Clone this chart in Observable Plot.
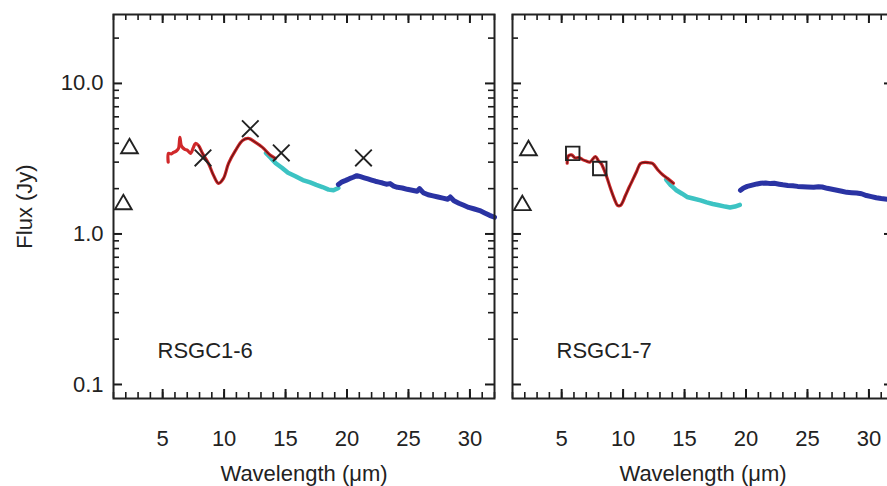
<!DOCTYPE html>
<html><head><meta charset="utf-8">
<script src="https://cdn.jsdelivr.net/npm/d3@7"></script>
<script src="https://cdn.jsdelivr.net/npm/@observablehq/plot@0.6"></script>
<style>
body{margin:0;background:#fff;}
#wrap{position:relative;width:887px;height:486px;overflow:hidden;background:#fff;}
#wrap > svg{position:absolute;top:0;}
</style></head><body><div id="wrap"></div>
<script>
// ---- axes ----
const xDomain = [1, 32];
const yDomain = [0.0807, 28.7];
const xMajor = [5, 10, 15, 20, 25, 30];
const xMinor = d3.range(1, 33);
const yMajor = [0.1, 1, 10];
const yTickLabels = ["0.1", "1.0", "10.0"];
const yMinor = [0.2,0.3,0.4,0.5,0.6,0.7,0.8,0.9,2,3,4,5,6,7,8,9,20];
const xLabel = "Wavelength (\u03bcm)";
const yLabel = "Flux (Jy)";
const panelNames = ["RSGC1-6", "RSGC1-7"];

// ---- RSGC1-6 ----
const tri6 = [[2.3, 3.70], [1.8, 1.57]];
const msx6 = [[8.28, 3.2], [12.13, 5.0], [14.65, 3.45], [21.34, 3.2]];
const red6 = [[5.45,3.00],[5.48,3.43],[5.7,3.40],[5.88,3.48],[6.1,3.55],[6.29,3.70],[6.4,4.38],[6.5,3.9],[6.61,3.76],[6.8,3.65],[7.02,3.59],[7.27,3.43],[7.5,3.75],[7.67,3.99],[7.92,3.87],[8.24,3.43],[8.73,2.94],[9.14,2.45],[9.54,2.17],[9.95,2.34],[10.36,2.94],[10.93,3.59],[11.5,4.18],[11.98,4.31],[12.55,4.06],[13.12,3.76],[13.77,3.33],[14.18,3.18]];
const cyan6 = [[13.4,3.45],[13.8,3.2],[14.2,2.95],[14.7,2.75],[15.2,2.55],[15.8,2.42],[16.4,2.28],[17.0,2.20],[17.5,2.12],[18.0,2.05],[18.5,1.97],[18.9,1.95],[19.3,2.02]];
const blue6 = [[19.3,2.13],[19.6,2.22],[19.9,2.27],[20.2,2.33],[20.5,2.38],[20.8,2.44],[21.1,2.40],[21.4,2.36],[21.7,2.32],[22.0,2.28],[22.3,2.24],[22.6,2.21],[22.9,2.18],[23.2,2.14],[23.5,2.16],[23.8,2.08],[24.1,2.04],[24.5,2.02],[24.9,1.98],[25.3,1.95],[25.7,1.92],[25.9,2.00],[26.2,1.88],[26.6,1.82],[27.0,1.79],[27.4,1.76],[27.8,1.73],[28.2,1.70],[28.4,1.76],[28.7,1.66],[29.1,1.60],[29.5,1.55],[29.9,1.50],[30.3,1.47],[30.8,1.43],[31.2,1.38],[31.6,1.33],[32.0,1.29]];

// ---- RSGC1-7 ----
const tri7 = [[2.3, 3.59], [1.8, 1.55]];
const glimpse7 = [[5.9, 3.43], [8.1, 2.72]];
const red7 = [[5.45,2.95],[5.55,3.30],[5.8,3.35],[6.1,3.20],[6.4,3.22],[6.7,3.12],[7.0,3.05],[7.3,3.00],[7.75,3.27],[8.0,3.05],[8.2,2.95],[8.57,2.52],[8.97,2.01],[9.3,1.70],[9.54,1.55],[9.79,1.55],[10.19,1.80],[10.5,2.05],[10.76,2.27],[11.1,2.6],[11.41,2.94],[11.82,2.99],[12.1,2.97],[12.39,2.94],[12.87,2.64],[13.2,2.48],[13.61,2.34],[14.10,2.17]];
const cyan7 = [[13.5,2.30],[13.9,2.10],[14.3,1.96],[14.8,1.85],[15.2,1.76],[15.7,1.72],[16.3,1.67],[16.8,1.62],[17.3,1.58],[17.8,1.55],[18.3,1.52],[18.7,1.50],[19.1,1.52],[19.5,1.56]];
const blue7 = [[19.55,1.95],[19.8,2.02],[20.1,2.07],[20.5,2.11],[20.9,2.15],[21.2,2.17],[21.6,2.18],[22.0,2.16],[22.3,2.17],[22.7,2.14],[23.0,2.12],[23.4,2.10],[23.8,2.09],[24.2,2.07],[24.6,2.06],[25.0,2.05],[25.5,2.04],[25.9,2.06],[26.2,2.05],[26.6,2.01],[27.0,1.98],[27.4,1.95],[27.8,1.92],[28.2,1.89],[28.6,1.88],[29.0,1.87],[29.4,1.85],[29.8,1.80],[30.2,1.77],[30.6,1.74],[31.0,1.72],[31.5,1.70],[32.0,1.68]];

const RED = "#d0282a", CYAN = "#3cc3c3", BLUE = "#2a33a3", INK = "#222";
const TICK = "#1a1a1a";
const FONT = "'Liberation Sans', Arial, Helvetica, sans-serif";
const FW = 381, FH = 384; // frame size in px

function panel({name, tri, pts, symbol, r, red, cyan, blue, coreFrom, yLabels, marginLeft, marginRight}) {
  const X = d => d[0], Y = d => d[1];
  const id = d => d;
  const marks = [
    Plot.line(cyan, {x: X, y: Y, stroke: CYAN, strokeWidth: 4.5, strokeLinejoin: "round"}),
    Plot.line(blue, {x: X, y: Y, stroke: BLUE, strokeWidth: 5, strokeLinejoin: "round"}),
    Plot.line(red, {x: X, y: Y, stroke: RED, strokeWidth: 3.2, strokeLinejoin: "round", curve: "catmull-rom"}),
    Plot.line(red.filter(d => d[0] >= coreFrom), {x: X, y: Y, stroke: "#3a0e0e", strokeWidth: 1.1, strokeOpacity: 0.75, curve: "catmull-rom"}),
    Plot.dot(tri, {x: X, y: Y, symbol: "triangle", r: 6.2, fill: "none", stroke: INK, strokeWidth: 1.9}),
    Plot.dot(pts, {x: X, y: Y, symbol, r, fill: "none", stroke: INK, strokeWidth: 1.9}),
    // inward tick marks on all four sides
    Plot.tickX(xMinor, {x: id, insetTop: FH - 6, stroke: TICK, strokeWidth: 1.6}),
    Plot.tickX(xMajor, {x: id, insetTop: FH - 9, stroke: TICK, strokeWidth: 2}),
    Plot.tickX(xMinor, {x: id, insetBottom: FH - 6, stroke: TICK, strokeWidth: 1.6}),
    Plot.tickX(xMajor, {x: id, insetBottom: FH - 9, stroke: TICK, strokeWidth: 2}),
    Plot.tickY(yMinor, {y: id, insetRight: FW - 6, stroke: TICK, strokeWidth: 1.6}),
    Plot.tickY(yMajor, {y: id, insetRight: FW - 9, stroke: TICK, strokeWidth: 2}),
    Plot.tickY(yMinor, {y: id, insetLeft: FW - 6, stroke: TICK, strokeWidth: 1.6}),
    Plot.tickY(yMajor, {y: id, insetLeft: FW - 9, stroke: TICK, strokeWidth: 2}),
    Plot.frame({stroke: INK, strokeWidth: 2}),
    Plot.axisX(xMajor, {anchor: "bottom", tickSize: 0, tickPadding: 32, fontSize: 22, fill: INK, label: null}),
    Plot.text([xLabel], {frameAnchor: "bottom", dy: 75, textAnchor: "middle", lineAnchor: "middle", fontSize: 22, fill: INK}),
    Plot.text([name], {frameAnchor: "bottom-left", dx: 44, dy: -48, textAnchor: "start", lineAnchor: "middle", fontSize: 22, fill: INK})
  ];
  if (yLabels) {
    marks.push(Plot.axisY(yMajor, {anchor: "left", tickSize: 0, tickPadding: 10, fontSize: 22, fill: INK, label: null,
      tickFormat: d => yTickLabels[yMajor.indexOf(d)]}));
    marks.push(Plot.text([yLabel], {frameAnchor: "left", dx: -89, rotate: -90, textAnchor: "middle", lineAnchor: "middle", fontSize: 22, fill: INK}));
  }
  return Plot.plot({
    width: marginLeft + FW + marginRight,
    height: 486,
    marginLeft, marginRight, marginTop: 14, marginBottom: 88,
    style: {fontFamily: FONT, fontSize: "22px", background: "white", color: INK, overflow: "visible"},
    x: {domain: xDomain, axis: null},
    y: {type: "log", domain: yDomain, axis: null},
    marks
  });
}

const wrap = document.getElementById("wrap");
const p1 = panel({name: panelNames[0], tri: tri6, pts: msx6, symbol: "times", r: 7.6, red: red6, cyan: cyan6, blue: blue6, coreFrom: 7.8, yLabels: true, marginLeft: 113, marginRight: 4});
p1.style.left = "0px";
wrap.appendChild(p1);
const p2 = panel({name: panelNames[1], tri: tri7, pts: glimpse7, symbol: "square", r: 7.6, red: red7, cyan: cyan7, blue: blue7, coreFrom: 5, yLabels: false, marginLeft: 14, marginRight: 10});
p2.style.left = "498px";
wrap.appendChild(p2);
</script>
</body></html>
